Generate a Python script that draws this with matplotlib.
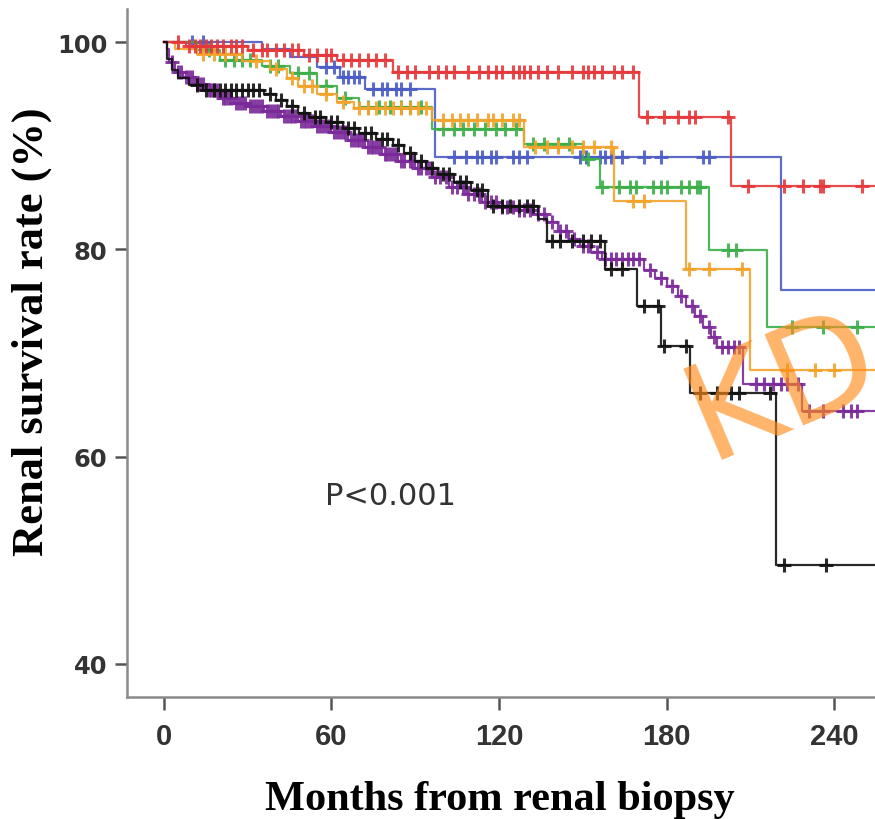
import numpy as np
import matplotlib
matplotlib.use("Agg")
import matplotlib.pyplot as plt

# Kaplan-Meier step data: (months, survival %)
red_t = [0, 8, 30, 50, 62, 82, 170, 203]
red_s = [100, 99.6, 99.2, 98.8, 98.3, 97.1, 92.8, 86.1]
red_cens = [5, 9, 11, 13, 15, 17, 19, 21, 24, 26, 28, 32, 35, 37, 40, 43, 46, 48, 52, 55, 58, 60,
            64, 67, 70, 73, 76, 79, 84, 87, 90, 95, 98, 101, 104, 109, 113, 116, 119, 121, 125, 127,
            129, 131, 134, 137, 141, 146, 150, 152, 154, 157, 161, 164, 168, 173, 179, 184, 188, 190,
            202, 209, 222, 229, 235, 236, 250]

blue_t = [0, 35, 45, 55, 63, 72, 97, 221]
blue_s = [100, 99.3, 98.6, 97.6, 96.6, 95.5, 88.9, 76.1]
blue_cens = [10, 14, 58, 61, 64, 66, 68, 70, 75, 78, 80, 83, 85, 88, 104, 108, 112, 114, 117, 119,
             125, 127, 130, 149, 151, 156, 158, 160, 164, 172, 178, 193, 195]

green_t = [0, 12, 20, 35, 45, 55, 62, 70, 96, 129, 150, 156, 195, 216]
green_s = [100, 99.2, 98.3, 97.7, 97.0, 95.8, 94.6, 93.7, 91.6, 90.2, 88.7, 86.0, 79.9, 72.5]
green_cens = [16, 22, 25, 28, 31, 38, 41, 48, 52, 58, 65, 73, 77, 81, 85, 88, 92, 100, 104, 107,
              111, 115, 119, 122, 126, 132, 136, 141, 145, 152, 157, 163, 167, 169, 175, 178, 180,
              185, 188, 191, 192, 202, 205, 225, 236, 248]

orange_t = [0, 4, 12, 28, 38, 44, 48, 55, 62, 68, 96, 129, 161, 187, 210]
orange_s = [100, 99.3, 98.9, 98.2, 97.4, 96.5, 95.8, 95.0, 94.2, 93.6, 92.5, 89.9, 84.7, 78.1, 68.4]
orange_cens = [14, 18, 22, 26, 33, 40, 46, 50, 53, 58, 64, 70, 73, 76, 79, 82, 85, 88, 91, 94, 100,
               103, 106, 109, 112, 116, 118, 121, 125, 127, 133, 137, 141, 146, 150, 154, 160, 168,
               172, 188, 195, 207, 223, 233, 240]

purple_t = [0, 1, 2, 4, 7, 11, 15, 20, 25, 30, 36, 42, 48, 54, 60, 66, 72, 78, 84, 90, 96, 102, 108,
            114, 120, 126, 132, 137, 141, 145, 149, 153, 157, 172, 176, 180, 184, 187, 190, 193, 196,
            198, 207.5, 228.5]
purple_s = [100, 99.3, 98.1, 97.1, 96.6, 96.0, 95.4, 94.6, 94.1, 93.8, 93.4, 92.9, 92.4, 91.9, 91.3,
            90.6, 89.9, 89.2, 88.5, 87.9, 87.0, 86.0, 85.3, 84.6, 84.1, 83.8, 83.4, 82.6, 81.8, 81.0,
            80.3, 79.7, 79.1, 78.0, 77.2, 76.5, 75.5, 74.5, 73.6, 72.5, 71.5, 70.6, 67.0, 64.4]
purple_cens = [3, 5, 6, 8, 9, 10, 12, 13, 14, 16, 17, 18, 19, 21, 22, 23, 24, 26, 27, 28, 29, 31, 32,
               33, 34, 35, 37, 38, 39, 40, 41, 43, 44, 45, 46, 47, 49, 50, 51, 52, 53, 55, 56, 57, 58,
               59, 61, 62, 63, 64, 65, 67, 68, 69, 70, 71, 73, 74, 75, 76, 77, 79, 80, 81, 82, 83, 85,
               86, 88, 89, 91, 92, 94, 95, 97, 99, 101, 103, 105, 107, 109, 111, 113, 115, 117, 119,
               121, 123, 125, 127, 129, 131, 134, 136, 139, 142, 144, 147, 150, 152, 155, 158, 160,
               162, 164, 166, 168, 170, 174, 178, 182, 185, 189, 192, 195, 197, 200, 202, 204, 206,
               212, 215, 218, 221, 223, 227, 231, 236, 243, 246, 248]

black_t = [0, 1, 3, 5, 9, 14, 36, 40, 44, 48, 52, 58, 64, 70, 76, 82, 86, 90, 94, 98, 104, 110, 116,
           134, 137, 158, 169.5, 178, 188.5, 219]
black_s = [100, 98.4, 97.3, 96.5, 95.9, 95.4, 95.0, 94.4, 93.8, 93.2, 92.8, 92.3, 91.7, 91.2, 90.7,
           90.1, 89.3, 88.5, 87.9, 87.3, 86.5, 85.7, 84.2, 82.9, 80.8, 78.1, 74.5, 70.7, 66.1, 49.5]
black_cens = [12, 15, 18, 20, 22, 24, 26, 28, 30, 32, 34, 38, 42, 46, 50, 54, 56, 60, 62, 66, 68, 72,
              74, 78, 80, 84, 88, 92, 96, 100, 102, 106, 108, 112, 114, 118, 121, 124, 127, 130, 132,
              139, 142, 146, 150, 153, 156, 160, 164, 172, 177, 179, 187, 192, 198, 203, 206, 217,
              222, 237]

curves = [
    (blue_t, blue_s, blue_cens, '#4B5CC4'),
    (green_t, green_s, green_cens, '#3DAE49'),
    (orange_t, orange_s, orange_cens, '#F2A32A'),
    (red_t, red_s, red_cens, '#E5383B'),
    (purple_t, purple_s, purple_cens, '#7B2A9A'),
    (black_t, black_s, black_cens, '#111111'),
]

x_ticks = [0, 60, 120, 180, 240]
y_ticks = [40, 60, 80, 100]

fig = plt.figure(figsize=(8.75, 8.2), dpi=100)
ax = fig.add_axes([127/875, 1-698/820, 1-127/875, (698-10)/820])
ax.set_xlim(-13.2, 254.6)
ax.set_ylim(36.8, 103.2)

for t, s, cens, col in curves:
    t = np.array(t, float)
    s = np.array(s, float)
    ax.step(np.append(t, 300), np.append(s, s[-1]), where='post', color=col, lw=1.6, alpha=0.9)
    c = np.array(cens, float)
    idx = np.searchsorted(t, c, side='right') - 1
    ax.plot(c, s[idx], ls='none', marker='+', ms=10, mew=2.2, color=col, alpha=0.9)

for sp in ['top', 'right']:
    ax.spines[sp].set_visible(False)
for sp in ['left', 'bottom']:
    ax.spines[sp].set_color('#8a8a8a')
    ax.spines[sp].set_linewidth(1.8)

ax.set_xticks(x_ticks)
ax.set_yticks(y_ticks)
ax.tick_params(axis='both', length=9, width=1.8, color='#555555', direction='out')
ax.set_xticklabels([str(v) for v in x_ticks], fontsize=21, fontweight='bold',
                   family='Liberation Sans', color='#333333')
ax.set_yticklabels([str(v) for v in y_ticks], fontsize=17.5, fontweight='bold',
                   family='DejaVu Sans', color='#333333')
ax.tick_params(axis='x', pad=9)
ax.tick_params(axis='y', pad=5)

ax.text(81, 56.2, 'P<0.001', fontsize=22, family='DejaVu Sans', color='#333333',
        ha='center', va='center')

fig.text(500/875, 1-800/820, 'Months from renal biopsy', fontsize=30.5, fontweight='bold',
         family='Liberation Serif', ha='center', va='center')
fig.text(32/875, 1-332/820, 'Renal survival rate (%)', fontsize=32, fontweight='bold',
         family='Liberation Serif', ha='center', va='center', rotation=90)

# watermark (kept just inside the right edge)
ax.text(195, 59.8, 'KD', fontsize=98, family='DejaVu Sans', color='#FF8C1A', alpha=0.65,
        rotation=23, rotation_mode='anchor', ha='left', va='baseline', clip_on=False, zorder=10)

fig.savefig('out.png', dpi=100)
